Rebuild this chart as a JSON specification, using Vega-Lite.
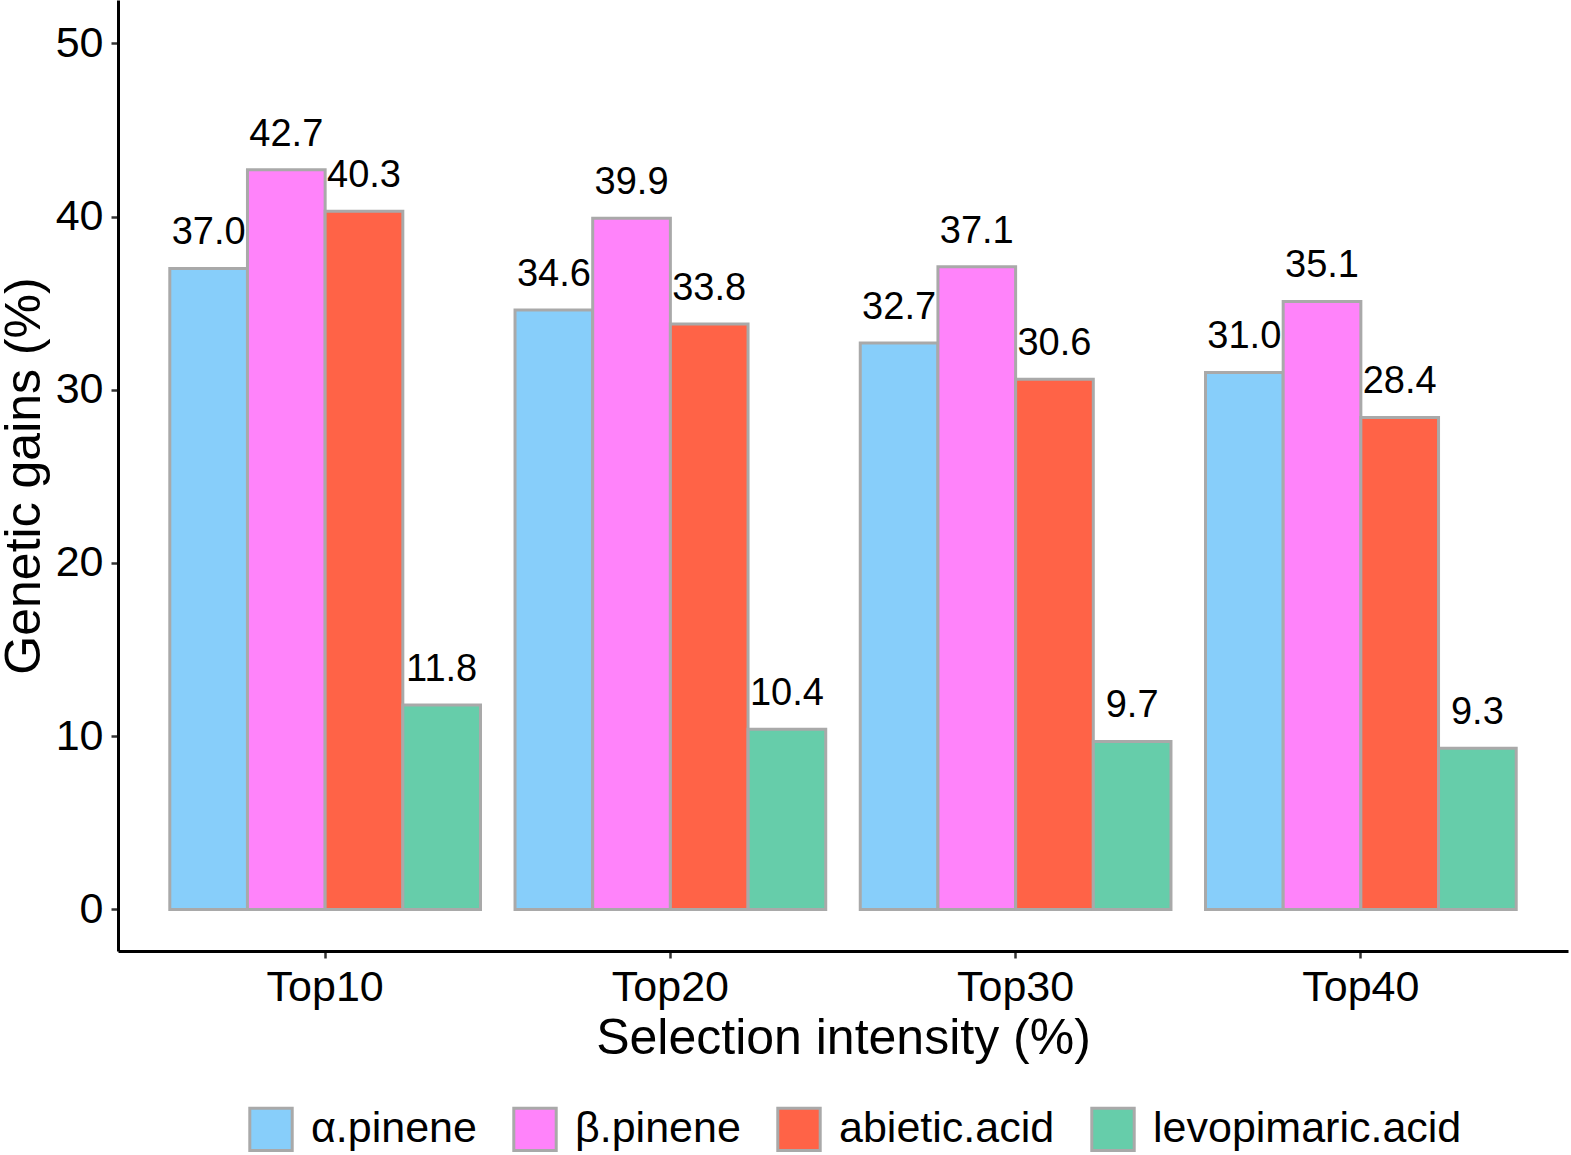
{
  "$schema": "https://vega.github.io/schema/vega-lite/v6.json",
  "width": 1450,
  "height": 951,
  "autosize": {"type": "none"},
  "padding": {"left": 118, "top": 0, "right": 3, "bottom": 204},
  "background": "#ffffff",
  "config": {
    "view": {"stroke": null},
    "font": "Liberation Sans",
    "axis": {
      "grid": false,
      "domainColor": "#000000",
      "domainWidth": 3,
      "tickColor": "#333333",
      "tickWidth": 2.5,
      "tickSize": 7,
      "labelColor": "#000000",
      "labelFont": "Liberation Sans",
      "labelFontSize": 43,
      "titleFont": "Liberation Sans",
      "titleFontSize": 50,
      "titleFontWeight": "normal",
      "titleColor": "#000000"
    },
    "legend": {
      "labelFont": "Liberation Sans",
      "labelFontSize": 43,
      "labelColor": "#000000",
      "labelLimit": 0
    }
  },
  "data": {
    "values": [
      {"intensity": "Top10", "compound": "α.pinene", "gain": 37.0},
      {"intensity": "Top10", "compound": "β.pinene", "gain": 42.7},
      {"intensity": "Top10", "compound": "abietic.acid", "gain": 40.3},
      {"intensity": "Top10", "compound": "levopimaric.acid", "gain": 11.8},
      {"intensity": "Top20", "compound": "α.pinene", "gain": 34.6},
      {"intensity": "Top20", "compound": "β.pinene", "gain": 39.9},
      {"intensity": "Top20", "compound": "abietic.acid", "gain": 33.8},
      {"intensity": "Top20", "compound": "levopimaric.acid", "gain": 10.4},
      {"intensity": "Top30", "compound": "α.pinene", "gain": 32.7},
      {"intensity": "Top30", "compound": "β.pinene", "gain": 37.1},
      {"intensity": "Top30", "compound": "abietic.acid", "gain": 30.6},
      {"intensity": "Top30", "compound": "levopimaric.acid", "gain": 9.7},
      {"intensity": "Top40", "compound": "α.pinene", "gain": 31.0},
      {"intensity": "Top40", "compound": "β.pinene", "gain": 35.1},
      {"intensity": "Top40", "compound": "abietic.acid", "gain": 28.4},
      {"intensity": "Top40", "compound": "levopimaric.acid", "gain": 9.3}
    ]
  },
  "encoding": {
    "x": {
      "field": "intensity",
      "type": "nominal",
      "scale": {"paddingInner": 0.1, "paddingOuter": 0.15},
      "axis": {"labelAngle": 0, "title": "Selection intensity (%)", "labelPadding": 8, "titlePadding": 4}
    },
    "xOffset": {
      "field": "compound",
      "type": "nominal",
      "sort": ["α.pinene", "β.pinene", "abietic.acid", "levopimaric.acid"],
      "scale": {"paddingInner": 0, "paddingOuter": 0}
    },
    "y": {
      "field": "gain",
      "type": "quantitative",
      "scale": {"domain": [-2.4, 52.5], "nice": false, "zero": false},
      "axis": {"values": [0, 10, 20, 30, 40, 50], "title": "Genetic gains (%)", "labelPadding": 8, "titlePadding": 6}
    }
  },
  "layer": [
    {
      "mark": {"type": "bar", "stroke": "#A9A9A9", "strokeWidth": 3},
      "encoding": {
        "y2": {"datum": 0},
        "color": {
          "field": "compound",
          "type": "nominal",
          "sort": ["α.pinene", "β.pinene", "abietic.acid", "levopimaric.acid"],
          "scale": {
            "domain": ["α.pinene", "β.pinene", "abietic.acid", "levopimaric.acid"],
            "range": ["#87CEFA", "#FF83FA", "#FF6347", "#66CDAA"]
          },
          "legend": {
            "title": null,
            "orient": "none",
            "direction": "horizontal",
            "legendX": 130,
            "legendY": 1106,
            "symbolType": "square",
            "symbolSize": 1800,
            "symbolStrokeColor": "#A9A9A9",
            "symbolStrokeWidth": 3,
            "symbolOpacity": 1,
            "labelOffset": 17,
            "columnPadding": 30,
            "padding": 0
          }
        }
      }
    },
    {
      "mark": {"type": "text", "fontSize": 38, "baseline": "bottom", "dy": -16, "color": "#000000"},
      "encoding": {
        "text": {"field": "gain", "type": "quantitative", "format": ".1f"}
      }
    }
  ]
}
